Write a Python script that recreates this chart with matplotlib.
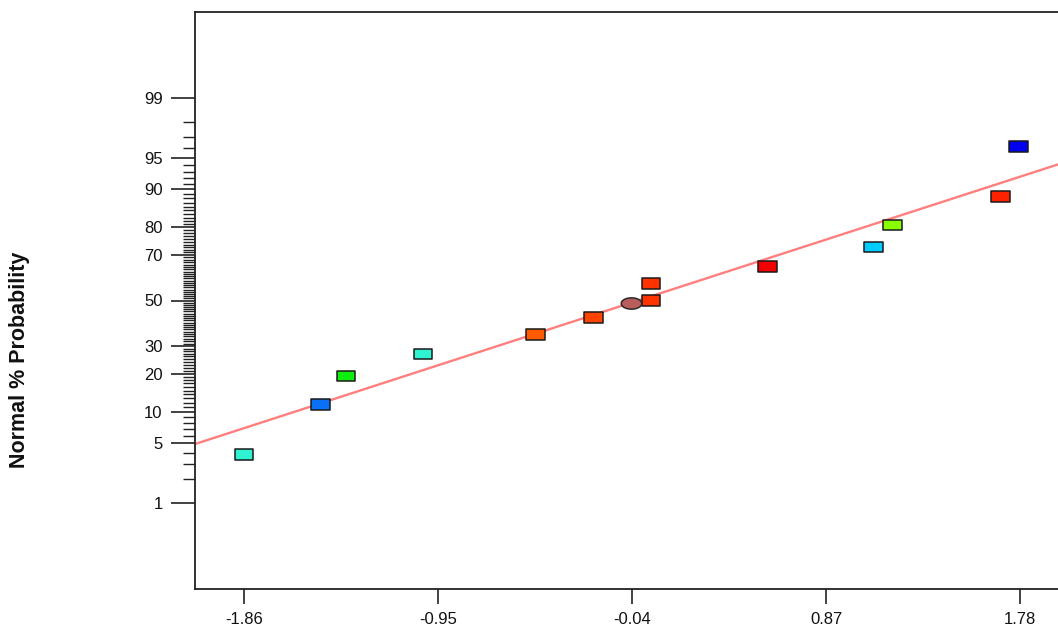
import matplotlib
matplotlib.use("Agg")
import matplotlib.pyplot as plt
from matplotlib.path import Path
import numpy as np
from statistics import NormalDist

# ---- data ----
sq_x = [-1.861, -1.500, -1.382, -1.020, -0.492, -0.222, 0.049, 0.049,
        0.594, 1.094, 1.181, 1.687, 1.774]
sq_p = [3.85, 11.54, 19.23, 26.92, 34.62, 42.31, 50.0, 57.69,
        65.38, 73.08, 80.77, 88.46, 96.15]
sq_colors = ['#2EF2D0', '#0A70F5', '#10EE10', '#2EF2D0', '#FF5A00', '#FF4400',
             '#FF3300', '#FF3300', '#F50000', '#00CCFF', '#88FF00', '#FF2200',
             '#0000F0']
ell_x = [-0.045]
ell_p = [49.0]
ell_colors = ['#B85C5C']

line_mean = -0.012
line_sd = 1.258

x_ticks = [-1.86, -0.95, -0.04, 0.87, 1.78]
x_ticklabels = ['-1.86', '-0.95', '-0.04', '0.87', '1.78']
y_major = [1, 5, 10, 20, 30, 50, 70, 80, 90, 95, 99]
y_minor = [v for v in range(2, 99) if v not in y_major]

nd = NormalDist()
def z(p):
    return nd.inv_cdf(p / 100.0)

plt.rcParams['font.family'] = ['Liberation Sans', 'DejaVu Sans']

fig = plt.figure(figsize=(10.58, 6.29), dpi=100)
ax = fig.add_axes([195 / 1058, 1 - 589 / 629, (1058 - 195) / 1058, (589 - 12) / 629])

xlim = (-2.09, 1.958)
ax.set_xlim(*xlim)
ax.set_ylim(-3.32, 3.32)

# fitted line
lx = np.array(xlim)
ax.plot(lx, (lx - line_mean) / line_sd, color='#FF7F7F', lw=1.7, zorder=2)

# markers
rect = Path([(-1, -0.58), (1, -0.58), (1, 0.58), (-1, 0.58), (-1, -0.58)],
            [Path.MOVETO, Path.LINETO, Path.LINETO, Path.LINETO, Path.CLOSEPOLY])
t = np.linspace(0, 2 * np.pi, 60)
ell = Path(np.column_stack([np.cos(t), 0.55 * np.sin(t)]), closed=True)

ax.scatter(sq_x, [z(p) for p in sq_p], marker=rect, s=13.4 ** 2,
           c=sq_colors, edgecolors='#1a1a1a', linewidths=1.1, zorder=3)
ax.scatter(ell_x, [z(p) for p in ell_p], marker=ell, s=14.8 ** 2,
           c=ell_colors, edgecolors='#2a2a2a', linewidths=1.1, zorder=3)

# axes styling
for side in ['left', 'bottom', 'top']:
    ax.spines[side].set_color('#222222')
    ax.spines[side].set_linewidth(1.3)
ax.spines['right'].set_visible(False)

ax.set_xticks(x_ticks)
ax.set_xticklabels(x_ticklabels, fontsize=12, color='#111111')
ax.tick_params(axis='x', direction='out', length=10.8, width=1.2, color='#222222', pad=6)

ax.set_yticks([z(v) for v in y_major])
ax.set_yticklabels([str(v) for v in y_major], fontsize=12, color='#111111')
ax.set_yticks([z(v) for v in y_minor], minor=True)
ax.tick_params(axis='y', which='major', direction='out', length=17.3, width=1.2,
               color='#222222', pad=6)
ax.tick_params(axis='y', which='minor', direction='out', length=8.5, width=1.0,
               color='#222222')

fig.text(20 / 1058, 1 - 360 / 629, 'Normal % Probability', rotation=90,
         ha='center', va='center', fontsize=15.5, fontweight='bold', color='#111111')

fig.savefig('out.png', dpi=100)
